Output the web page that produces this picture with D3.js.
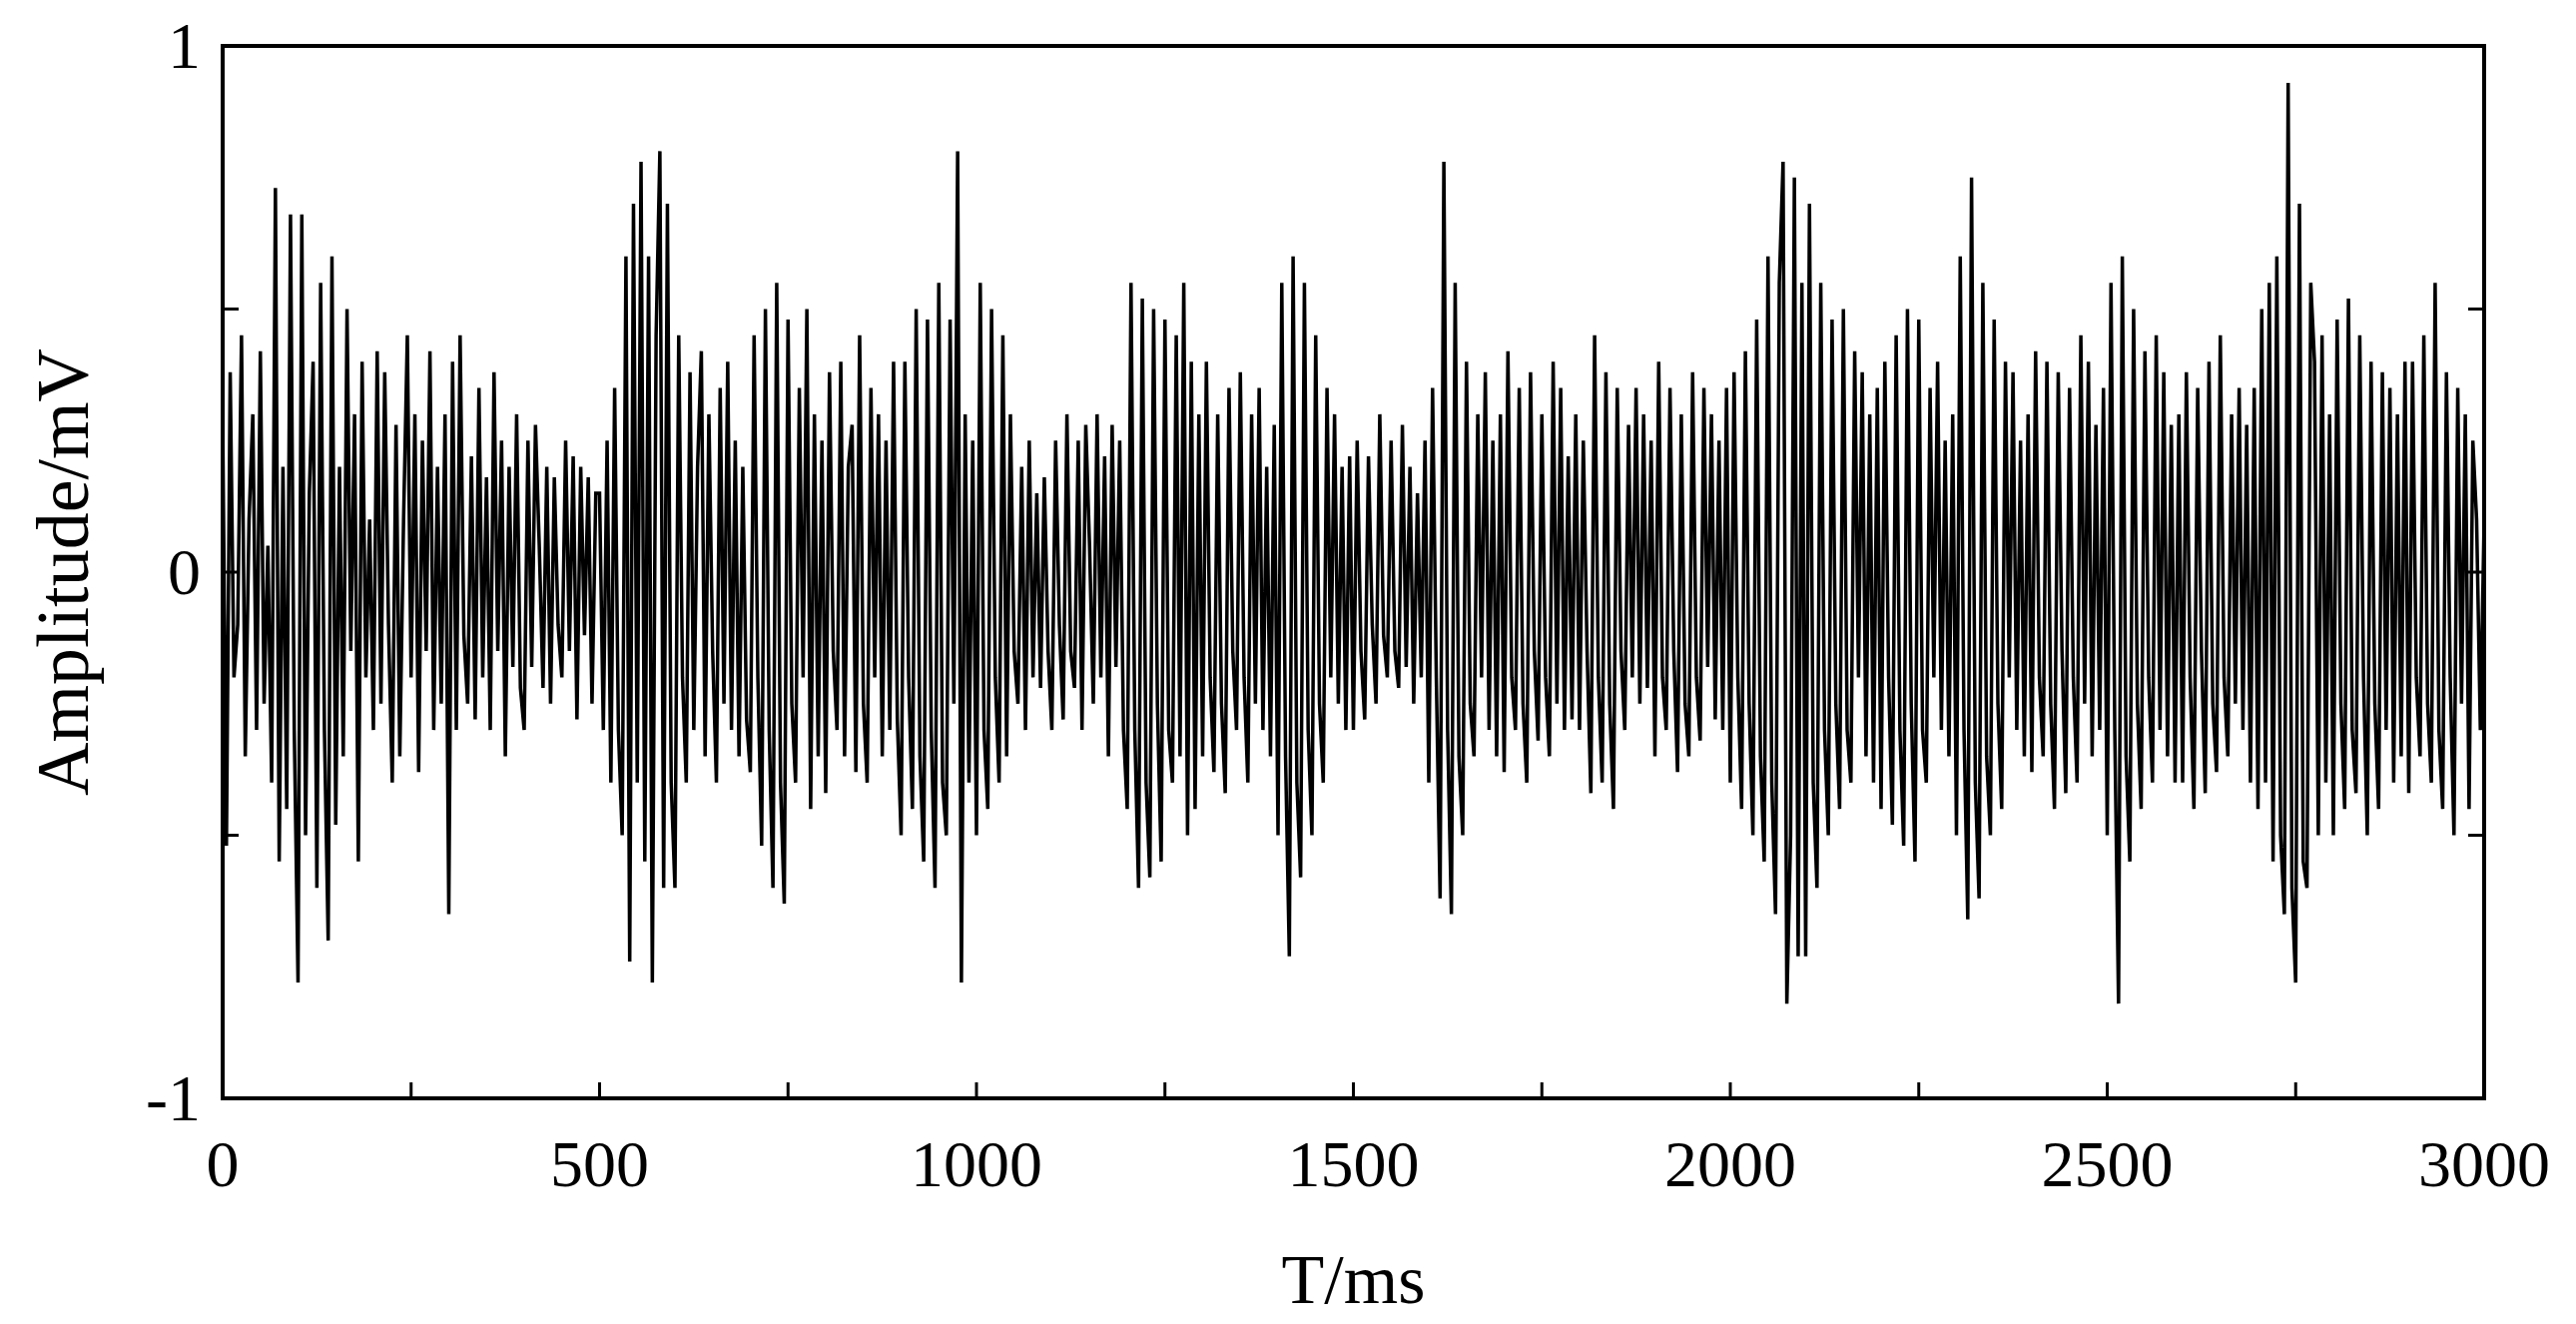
<!DOCTYPE html>
<html>
<head>
<meta charset="utf-8">
<script src="https://cdn.jsdelivr.net/npm/d3@7"></script>
<style>
body { margin: 0; background: #fff; }
text { font-family: "Liberation Serif", "Times New Roman", serif; }
</style>
</head>
<body>
<svg id="chart" width="2580" height="1326"></svg>
<script>
// sample step (ms) and amplitudes in hundredths of mV, one row per 100 ms
var stepMs = 5;
var amps = [
  30,-52,38,-20,-10,45,-35,10,30,-30,42,-25,5,-40,73,-55,20,-45,68,-30,
  -78,68,-50,15,40,-60,55,-30,-70,60,-48,20,-35,50,-15,30,-55,40,-20,10,
  -30,42,-25,38,-10,-40,28,-35,10,45,-20,30,-38,25,-15,42,-30,20,-25,30,
  -65,40,-30,45,-12,-25,22,-28,35,-20,18,-30,38,-15,25,-35,20,-18,30,-22,
  -30,25,-18,28,5,-22,20,-25,18,-10,-20,25,-15,22,-28,20,-12,18,-25,15,
  15,-30,25,-40,35,-30,-50,60,-74,70,-40,78,-55,60,-78,45,80,-60,70,-40,
  -60,45,-20,-40,38,-30,20,42,-35,30,-15,-40,35,-25,40,-30,25,-35,20,-28,
  -38,45,-20,-52,50,-30,-60,55,-40,-63,48,-25,-40,35,-20,50,-45,30,-35,25,
  -42,38,-15,-30,40,-35,20,28,-38,45,-25,-40,35,-20,30,-35,25,-30,40,-28,
  -50,40,-20,-45,50,-35,-55,48,-30,-60,55,-40,-50,48,-25,80,-78,30,-40,25,
  -50,55,-30,-45,50,-20,-40,45,-35,30,-15,-25,20,-30,25,-20,15,-22,18,-15,
  -30,25,-10,-28,30,-15,-22,25,-30,28,5,-25,30,-20,22,-35,28,-18,25,-30,
  -45,55,-30,-60,52,-40,-58,50,-25,-55,48,-30,-40,45,-35,55,-50,40,-45,30,
  -35,40,-20,-38,30,-25,-42,35,-15,-30,38,-20,-40,30,-25,35,-30,20,-35,28,
  -50,55,-35,-73,60,-40,-58,55,-30,-50,45,-25,-40,35,-20,30,-25,20,-30,22,
  -30,25,-15,-28,22,-10,-25,30,-12,-20,25,-15,-22,28,-18,20,-25,15,-20,25,
  -40,35,-20,-62,78,-30,-65,55,-35,-50,40,-25,-35,30,-20,38,-30,25,-35,30,
  -38,42,-20,-30,35,-25,-40,38,-15,-32,30,-20,-35,40,-25,35,-30,22,-28,30,
  -30,25,-15,-42,45,-20,-40,38,-25,-45,35,-15,-30,28,-20,35,-25,30,-22,25,
  -35,40,-20,-30,35,-15,-38,30,-25,-35,38,-20,-32,35,-18,30,-28,25,-30,35,
  -40,38,-20,-45,42,-25,-50,48,-35,-55,60,-40,-65,55,78,-82,-50,75,-73,55,
  -73,70,-40,-60,55,-30,-50,48,-25,-45,50,-30,-40,42,-20,38,-35,30,-40,35,
  -45,40,-20,-48,45,-30,-52,50,-25,-55,48,-30,-40,35,-20,40,-30,25,-35,30,
  -50,60,-30,-66,75,-40,-62,55,-35,-50,48,-25,-45,40,-20,38,-30,25,-35,30,
  -38,42,-20,-35,40,-25,-45,38,-15,-42,35,-20,-40,45,-25,40,-35,28,-30,35,
  -50,55,-30,-82,60,-35,-55,50,-25,-45,42,-20,-40,45,-30,38,-35,28,-40,30,
  -40,38,-20,-45,35,-15,-42,40,-25,-38,45,-20,-35,30,-25,35,-30,28,-40,35,
  -45,50,-40,55,-55,60,-50,-65,93,-60,-78,70,-55,-60,55,40,-50,45,-40,30,
  -50,48,-25,-45,52,-30,-42,45,-20,-50,40,-25,-45,38,-30,35,-40,30,-35,40,
  -42,40,-20,-35,45,-25,-40,55,-30,-45,38,-20,-50,35,-25,30,-45,25,10,-30
];
var yTicks = [-1, -0.5, 0, 0.5, 1];
var yLabels = [-1, 0, 1];
var xTicks = d3.range(0, 3001, 250);
var xLabels = d3.range(0, 3001, 500);

var data = amps.map(function(a, i) { return { t: i * stepMs, v: a / 100 }; });
data.push({ t: 3000, v: 0.1 });

var svg = d3.select("#chart");
var pl = 223, pr = 2488, pt = 46, pb = 1100;
var x = d3.scaleLinear().domain([0, 3000]).range([pl, pr]);
var y = d3.scaleLinear().domain([-1, 1]).range([pb, pt]);

// signal
svg.append("path")
  .datum(data)
  .attr("fill", "none")
  .attr("stroke", "#000")
  .attr("stroke-width", 3.5)
  .attr("d", d3.line().x(function(d) { return x(d.t); }).y(function(d) { return y(d.v); }));

// frame
svg.append("rect").attr("x", pl).attr("y", pt).attr("width", pr - pl).attr("height", pb - pt)
  .attr("fill", "none").attr("stroke", "#000").attr("stroke-width", 4);

// inward ticks
var tl = 16;
svg.selectAll(".xt").data(xTicks).enter().append("line")
  .attr("x1", function(d) { return x(d); }).attr("x2", function(d) { return x(d); })
  .attr("y1", pb).attr("y2", pb - tl).attr("stroke", "#000").attr("stroke-width", 3);
svg.selectAll(".yl").data(yTicks).enter().append("line")
  .attr("x1", pl).attr("x2", pl + tl)
  .attr("y1", function(d) { return y(d); }).attr("y2", function(d) { return y(d); })
  .attr("stroke", "#000").attr("stroke-width", 3);
svg.selectAll(".yr").data(yTicks).enter().append("line")
  .attr("x1", pr).attr("x2", pr - tl)
  .attr("y1", function(d) { return y(d); }).attr("y2", function(d) { return y(d); })
  .attr("stroke", "#000").attr("stroke-width", 3);

// labels
svg.selectAll(".xlab").data(xLabels).enter().append("text")
  .attr("x", function(d) { return x(d); }).attr("y", pb + 88)
  .attr("text-anchor", "middle").attr("font-size", 66).text(function(d) { return d; });
svg.selectAll(".ylab").data(yLabels).enter().append("text")
  .attr("x", pl - 22).attr("y", function(d) { return y(d) + 22; })
  .attr("text-anchor", "end").attr("font-size", 66).text(function(d) { return d; });

svg.append("text").attr("x", (pl + pr) / 2).attr("y", 1305)
  .attr("text-anchor", "middle").attr("font-size", 70).text("T/ms");
svg.append("text").attr("transform", "translate(88," + (pt + pb) / 2 + ") rotate(-90)")
  .attr("text-anchor", "middle").attr("font-size", 74).text("Amplitude/mV");
</script>
</body>
</html>
